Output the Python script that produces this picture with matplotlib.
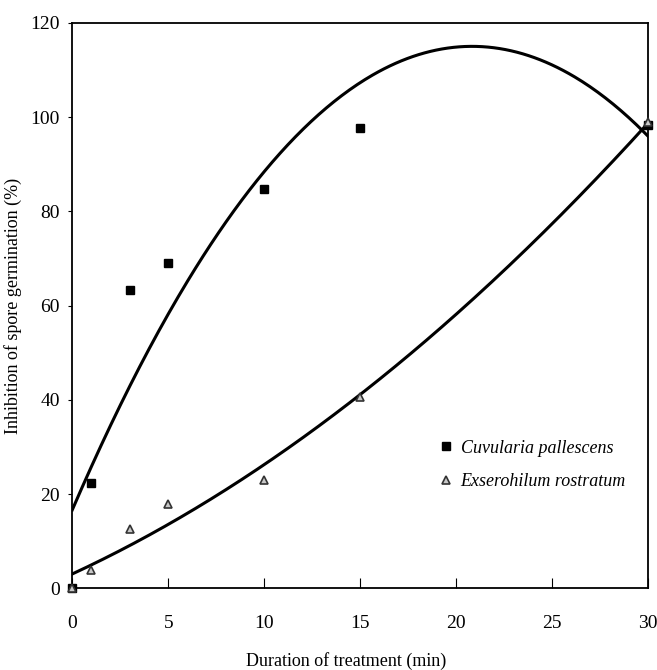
import numpy as np
import matplotlib.pyplot as plt

plt.rcParams['font.family'] = ['Liberation Serif', 'DejaVu Serif']

# 처리 시간 (분)
minutes = [0, 1, 3, 5, 10, 15, 30]
# 포자 발아 억제율 (%)
cuvularia = [0, 22.3, 63.2, 69.0, 84.8, 97.6, 98.3]
exserohilum = [0, 3.8, 12.5, 17.8, 22.9, 40.6, 99.0]

fig = plt.figure(figsize=(6.57, 6.70), dpi=100)
ax = fig.add_axes([0.11, 0.122, 0.876, 0.844])

# 2차 다항식 추세선
xs = np.linspace(0, 30, 300)
for ys in (cuvularia, exserohilum):
    coef = np.polyfit(minutes, ys, 2)
    ax.plot(xs, np.polyval(coef, xs), color='black', lw=2.2, zorder=2)

ax.plot(minutes, cuvularia, 's', ms=6, color='black', ls='none',
        label='Cuvularia pallescens', zorder=3, clip_on=False)
ax.plot(minutes, exserohilum, '^', ms=5.5, mfc='#c8c8c8', mec='#333333', mew=1.2,
        ls='none', label='Exserohilum rostratum', zorder=4, clip_on=False)

ax.set_xlim(0, 30)
ax.set_ylim(0, 120)
ax.set_xticks(range(0, 31, 5))
ax.set_yticks(range(0, 121, 20))
ax.tick_params(axis='x', direction='in', length=7, labelsize=14, pad=19)
ax.tick_params(axis='y', direction='out', length=3, labelsize=14, pad=6)
for s in ax.spines.values():
    s.set_linewidth(1.3)

ax.set_xlabel('Duration of treatment (min)', fontsize=13)
ax.xaxis.set_label_coords(0.475, -0.112)
ax.set_ylabel('Inhibition of spore germination (%)', fontsize=13, labelpad=6)

leg = ax.legend(loc='lower right', bbox_to_anchor=(0.99, 0.145), frameon=False,
                prop={'style': 'italic', 'size': 13}, handletextpad=0.3,
                handlelength=1.0, labelspacing=0.9, markerscale=1.0)

fig.savefig('out.png', dpi=100)
